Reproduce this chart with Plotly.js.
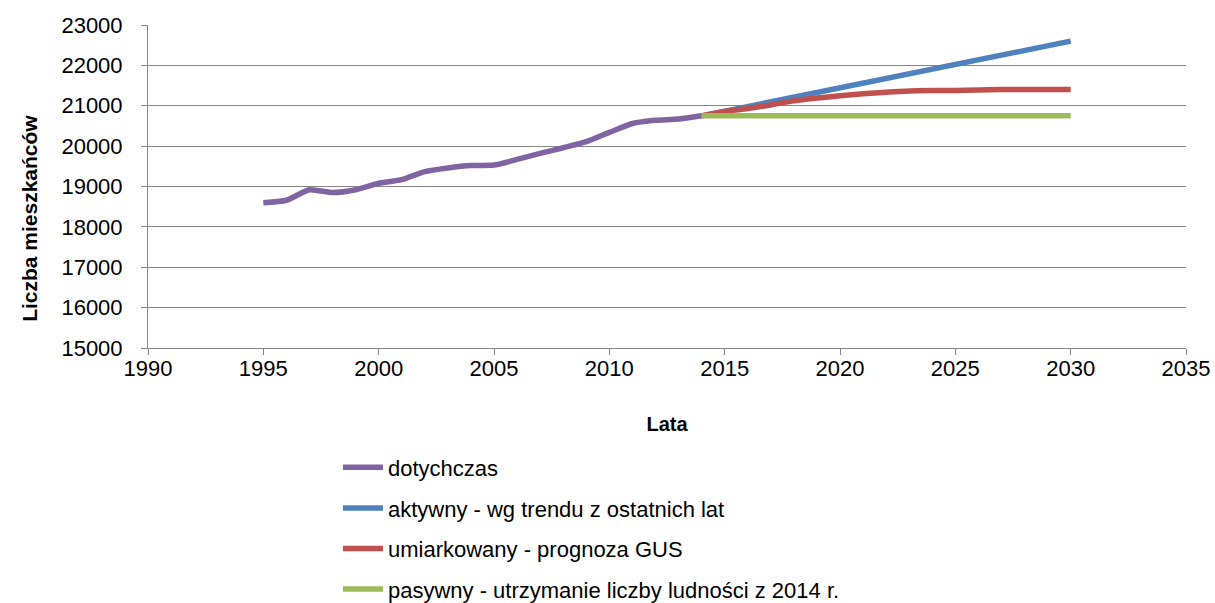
<!DOCTYPE html>
<html>
<head>
<meta charset="utf-8">
<script src="https://cdn.plot.ly/plotly-3.0.1.min.js"></script>
<style>
  html, body { margin: 0; padding: 0; background: #fff; }
  #plot { width: 1215px; height: 603px; }
</style>
</head>
<body>
<div id="plot"></div>
<script>
// history
const yearsPast = [1995, 1996, 1997, 1998, 1999, 2000, 2001, 2002, 2003, 2004, 2005, 2006, 2007, 2008, 2009, 2010, 2011, 2012, 2013, 2014];
const popPast = [18600, 18660, 18920, 18850, 18920, 19080, 19170, 19370, 19460, 19520, 19530, 19670, 19820, 19960, 20110, 20340, 20560, 20640, 20670, 20750];

// scenarios
const yearsActive = [2014, 2030];
const popActive = [20750, 22600];

const yearsModerate = [2014, 2015, 2016, 2017, 2018, 2019, 2020, 2021, 2022, 2023, 2024, 2025, 2026, 2027, 2028, 2029, 2030];
const popModerate = [20750, 20860, 20930, 21020, 21120, 21190, 21245, 21295, 21335, 21365, 21375, 21380, 21390, 21405, 21405, 21405, 21405];

const yearsPassive = [2014, 2030];
const popPassive = [20750, 20750];

const names = [
    'dotychczas',
    'aktywny - wg trendu z ostatnich lat',
    'umiarkowany - prognoza GUS',
    'pasywny - utrzymanie liczby ludności z 2014 r.'
];
const colors = ['#8064A2', '#4F81BD', '#C0504D', '#9BBB59'];

const xs = [yearsPast, yearsActive, yearsModerate, yearsPassive];
const ys = [popPast, popActive, popModerate, popPassive];

const data = names.map((n, i) => ({
    x: xs[i],
    y: ys[i],
    name: n,
    legendgroup: 'g' + i,
    type: 'scatter',
    mode: 'lines',
    line: { color: colors[i], width: 5.5, shape: 'spline', smoothing: 0.6 }
}));

const font = { family: 'Liberation Sans, Arial, sans-serif', size: 22, color: '#000' };

const layout = {
    width: 1215,
    height: 603,
    // fixed margins, the legend must not push the plot area up
    margin: { l: 148, r: 29, t: 25, b: 255, autoexpand: false },
    paper_bgcolor: '#fff',
    plot_bgcolor: '#fff',
    font: font,
    showlegend: true,
    legend: {
        x: 0.183, y: -0.305, xanchor: 'left', yanchor: 'top',
        orientation: 'v',
        traceorder: 'grouped',
        tracegroupgap: 9,
        itemwidth: 40,
        font: font
    },
    xaxis: {
        range: [1990, 2035],
        dtick: 5,
        tick0: 1990,
        showgrid: false,
        zeroline: false,
        showline: true,
        linecolor: '#868686',
        linewidth: 1,
        ticks: 'outside',
        ticklen: 6,
        tickcolor: '#868686',
        tickfont: font,
        ticklabelstandoff: -5,
        automargin: false,
        title: { text: '<b>Lata</b>', font: { family: font.family, size: 20, color: '#000' }, standoff: 36 }
    },
    yaxis: {
        range: [15000, 23000],
        dtick: 1000,
        showgrid: true,
        gridcolor: '#868686',
        gridwidth: 1,
        zeroline: false,
        showline: true,
        linecolor: '#868686',
        ticks: 'outside',
        ticklen: 6,
        tickcolor: '#868686',
        tickfont: font,
        ticklabelstandoff: 14,
        tickformat: 'd',
        automargin: false,
        // trailing spaces push the rotated title a bit lower, as in the original
        title: { text: '<b>Liczba mieszkańców' + '\u00a0'.repeat(11) + '</b>', font: { family: font.family, size: 21, color: '#000' }, standoff: 18 }
    }
};

Plotly.newPlot('plot', data, layout, { displayModeBar: false, staticPlot: true });
</script>
</body>
</html>
